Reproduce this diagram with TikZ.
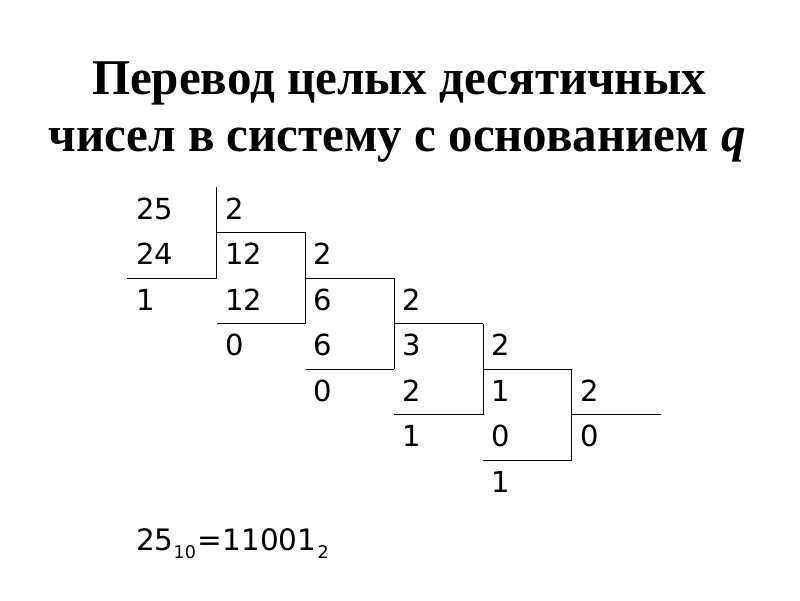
\documentclass[tikz,border=0pt]{standalone}
\usepackage{fontspec}
\setmainfont{Liberation Serif}
\newfontfamily\numfont{DejaVu Sans}
\newcommand{\subnum}[1]{\raisebox{-8pt}{\fontsize{17.5}{17.5}\selectfont #1}}
\begin{document}
\begin{tikzpicture}[x=1pt,y=-1pt,
  title/.style={anchor=base,inner sep=0pt,xscale=0.98,font=\fontsize{50}{50}\selectfont\bfseries},
  num/.style={anchor=base west,inner sep=0pt,font=\fontsize{29}{29}\numfont},
  rule/.style={line width=0.9pt,black}]
\useasboundingbox (0,0) rectangle (800,600);
\node[title] (t1) at (399,94) {Перевод целых десятичных};
\node[title] (t2) at (397,151) {чисел в систему с основанием \textit{q}};
% grid lines
\def\dx{88.8}
\def\dy{45.5}
\foreach \k in {0,...,4}{
  \pgfmathsetmacro{\xa}{216.7+\dx*\k}
  \pgfmathsetmacro{\xb}{216.7+\dx*(\k+1)}
  \pgfmathsetmacro{\xc}{\k==0 ? 127 : 216.7+\dx*(\k-1)}
  \pgfmathsetmacro{\ya}{187+\dy*\k}
  \pgfmathsetmacro{\yb}{187+\dy*(\k+1)}
  \pgfmathsetmacro{\yc}{187+\dy*(\k+2)}
  \coordinate (v\k a) at (\xa,\ya);
  \coordinate (v\k b) at (\xa,\yc);
  \coordinate (h\k a) at (\xa,\yb);
  \coordinate (h\k b) at (\xb,\yb);
  \coordinate (b\k a) at (\xc,\yc);
  \draw[rule] (v\k a) -- (v\k b);
  \draw[rule] (h\k a) -- (h\k b);
  \draw[rule] (b\k a) -- (v\k b);
}
% numbers: column, row, text
\foreach \c/\r/\t in {0/0/25,0/1/24,0/2/1,
  1/0/2,1/1/12,1/2/12,1/3/0,
  2/1/2,2/2/6,2/3/6,2/4/0,
  3/2/2,3/3/3,3/4/2,3/5/1,
  4/3/2,4/4/1,4/5/0,4/6/1,
  5/4/2,5/5/0}{
  \node[num] (n\c\r) at ({136+\dx*\c},{219+\dy*\r}) {\t};
}
\node[num,font=\fontsize{29.5}{29.5}\numfont] (res) at (136,550) {25\subnum{10}\kern1pt=\kern1pt11001\kern1pt\subnum{2}};
\end{tikzpicture}
\end{document}
